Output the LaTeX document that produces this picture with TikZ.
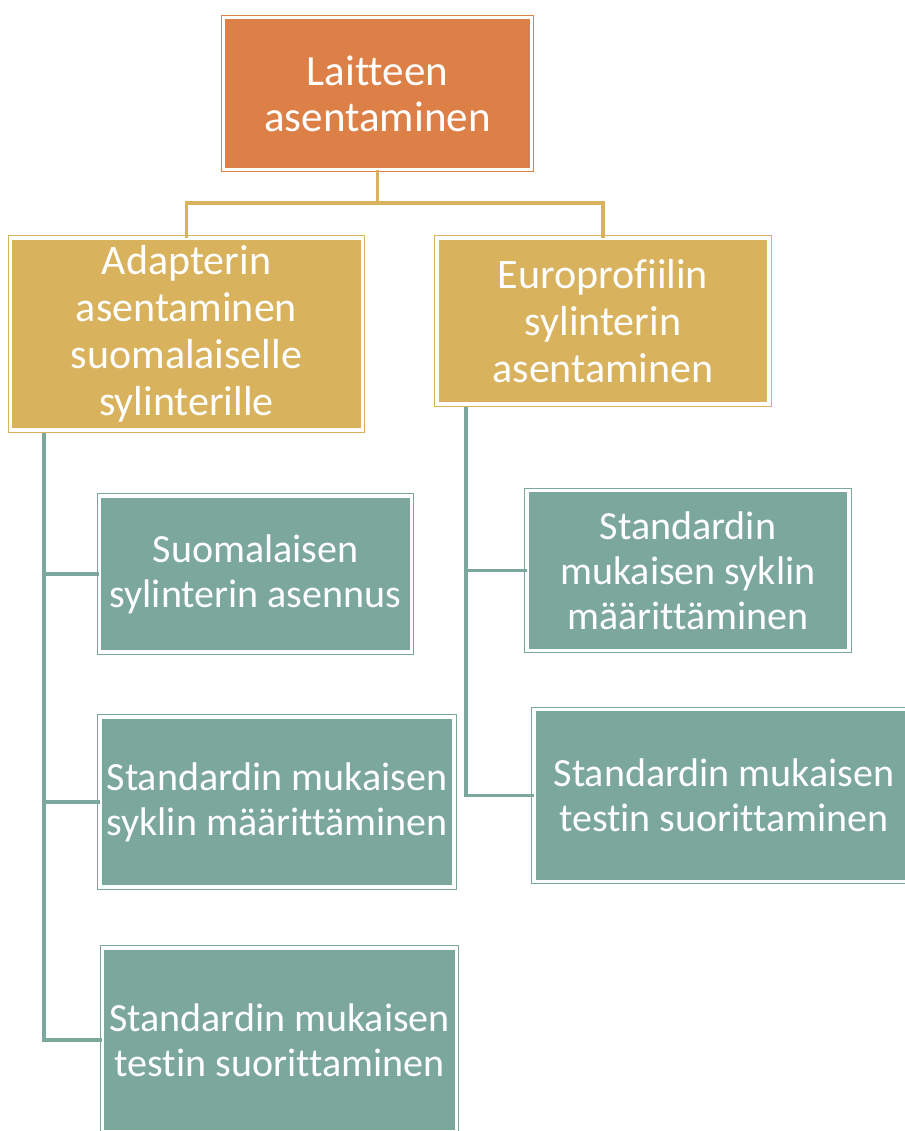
\documentclass[tikz,border=0pt]{standalone}
\usepackage{fontspec}
\setmainfont{Carlito}[Ligatures=NoCommon]
\usetikzlibrary{positioning}

\definecolor{rootorange}{HTML}{DD8047}
\definecolor{phasegold}{HTML}{D8B25C}
\definecolor{taskteal}{HTML}{7BA79D}

\begin{document}
\begin{tikzpicture}[
    x=0.5pt, y=-0.5pt,
    every node/.style={align=center, text=white, inner sep=2pt},
    box/.style={rectangle, line width=0.5pt, double=white,
                double distance=1.6pt},
    rootbox/.style={box, draw=rootorange, fill=rootorange,
                    font=\fontsize{21.5}{23}\selectfont},
    phasebox/.style={box, draw=phasegold, fill=phasegold,
                     font=\fontsize{21}{23.5}\selectfont},
    taskbox/.style={box, draw=taskteal, fill=taskteal,
                    font=\fontsize{20}{22.5}\selectfont},
    goldline/.style={draw=phasegold, line width=1.6pt},
    tealline/.style={draw=taskteal, line width=1.6pt},
]
\useasboundingbox (0,0) rectangle (905,1131);

% ---------- Root ----------
\node[rootbox, minimum width=154pt, minimum height=76pt] (root) at (377.5, 93.5)
    {Laitteen\\asentaminen};

% ---------- Phases ----------
\node[phasebox, minimum width=176pt, minimum height=96pt] (adapter) at (186.5, 334)
    {Adapterin\\asentaminen\\suomalaiselle\\sylinterille};

\node[phasebox, minimum width=166pt, minimum height=83pt] (euro) at (603, 321)
    {Europrofiilin\\sylinterin\\asentaminen};

% ---------- Tasks (left) ----------
\node[taskbox, minimum width=156pt, minimum height=78pt] (fiinstall) at (255.5, 574)
    {Suomalaisen\\sylinterin asennus};

\node[taskbox, minimum width=177pt, minimum height=85pt] (ficycle) at (277, 802)
    {Standardin mukaisen\\syklin määrittäminen};

\node[taskbox, minimum width=177pt, minimum height=92pt] (fitest) at (279.5, 1040)
    {Standardin mukaisen\\testin suorittaminen};

% ---------- Tasks (right) ----------
\node[taskbox, minimum width=161pt, minimum height=80pt] (eucycle) at (688, 570.5)
    {Standardin\\mukaisen syklin\\määrittäminen};

\node[taskbox, minimum width=190pt, minimum height=86pt] (eutest) at (724, 795.5)
    {Standardin mukaisen\\testin suorittaminen};

% ---------- Connectors ----------
\coordinate (split) at (377.5, 203);
\coordinate (lspine) at (44, 433);
\coordinate (rspine) at (466, 407);

\draw[goldline] (root.south) -- (split);
\draw[goldline] (split) -| (adapter.north);
\draw[goldline] (split) -| (euro.north);

\draw[tealline] (lspine) |- (fiinstall.west);
\draw[tealline] (lspine) |- (ficycle.west);
\draw[tealline] (lspine) |- (fitest.west);

\draw[tealline] (rspine) |- (eucycle.west);
\draw[tealline] (rspine) |- (eutest.west);

\end{tikzpicture}
\end{document}
